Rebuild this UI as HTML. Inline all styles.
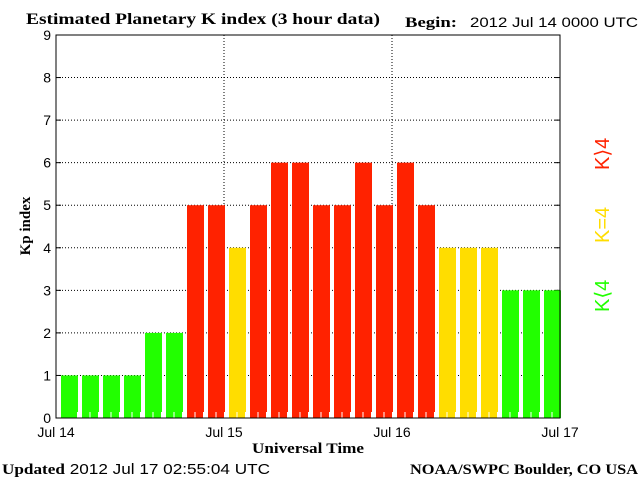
<!DOCTYPE html>
<html><head><meta charset="utf-8"><style>
body{margin:0;background:#fff;}
svg{display:block;font-family:"Liberation Sans",sans-serif;}
.serif{font-family:"Liberation Serif",serif;font-weight:bold;}
</style></head><body>
<svg id="chart" width="640" height="480" xmlns="http://www.w3.org/2000/svg">
<text x="26" y="24" class="serif" font-size="16" textLength="354" lengthAdjust="spacingAndGlyphs">Estimated Planetary K index (3 hour data)</text>
<text x="405" y="27" class="serif" font-size="15" textLength="52" lengthAdjust="spacingAndGlyphs">Begin:</text>
<text x="470" y="27" font-size="14" textLength="168" lengthAdjust="spacingAndGlyphs">2012 Jul 14 0000 UTC</text>
<g id="plot"></g>
<text x="30" y="226" class="serif" font-size="15" text-anchor="middle" transform="rotate(-90 30 226)">Kp index</text>
<text x="308" y="453" class="serif" font-size="15" text-anchor="middle" textLength="112" lengthAdjust="spacingAndGlyphs">Universal Time</text>
<text x="2" y="474" font-size="15" textLength="268" lengthAdjust="spacingAndGlyphs"><tspan class="serif">Updated</tspan> 2012 Jul 17 02:55:04 UTC</text>
<text x="410" y="474" class="serif" font-size="15" textLength="228" lengthAdjust="spacingAndGlyphs">NOAA/SWPC Boulder, CO USA</text>
<text x="609" y="312" font-size="20" fill="#22ff00" transform="rotate(-90 609 312)">K⟨4</text>
<text x="609" y="243" font-size="20" fill="#ffdd00" transform="rotate(-90 609 243)">K=4</text>
<text x="609" y="170" font-size="20" fill="#ff2200" transform="rotate(-90 609 170)">K⟩4</text>
</svg>
<script>
const kpValues = [1,1,1,1,2,2,5,5,4,5,6,6,5,5,6,5,6,5,4,4,4,3,3,3];
const yTicks = [0,1,2,3,4,5,6,7,8,9];
const dayLabels = ["Jul 14","Jul 15","Jul 16","Jul 17"];
const NS="http://www.w3.org/2000/svg";
const L=56,R=560,T=35,B=418;
const y=v=>B-(B-T)*v/9;
const slotW=(R-L)/kpValues.length;
const xs=i=>L+i*slotW;
const g=document.getElementById('plot');
function mk(t,a){const e=document.createElementNS(NS,t);for(const k in a)e.setAttribute(k,a[k]);g.appendChild(e);return e;}
yTicks.forEach(v=>{
 if(v>0&&v<9){const l=mk('line',{x1:L,x2:R,y1:y(v),y2:y(v),stroke:'#000','stroke-dasharray':'1,2','stroke-width':1});
 
 }
 const t=mk('text',{x:L-5,y:y(v)+5,'font-size':14,'text-anchor':'end'});t.textContent=v;
 
 
 mk('line',{x1:L,x2:L+5,y1:y(v),y2:y(v),stroke:'#000'});
 mk('line',{x1:R-5,x2:R,y1:y(v),y2:y(v),stroke:'#000'});
});
const dayW=(R-L)/(dayLabels.length-1);
dayLabels.forEach((d,i)=>{
 const x=L+i*dayW;
 if(i>0&&i<dayLabels.length-1){const l=mk('line',{x1:x,x2:x,y1:T,y2:B,stroke:'#000','stroke-dasharray':'1,2'});
 
 }
 const t=mk('text',{x:x,y:437,'font-size':14,'text-anchor':'middle'});t.textContent=d;
 
 
});
kpValues.forEach((v,i)=>{
 const c=v<4?'#22ff00':(v==4?'#ffdd00':'#ff2200');
 const r=mk('rect',{x:xs(i)+5,y:y(v),width:slotW-4,height:B-y(v),fill:c});
 
 
 mk('line',{x1:xs(i)+0.5,x2:xs(i)+0.5,y1:B-6,y2:B,stroke:'#fff'});
});
for(let i=1;i<kpValues.length;i++){const x=xs(i)+slotW/2+2.5;mk('line',{x1:x,x2:x,y1:B-6,y2:B,stroke:'#fff'});}
const f=mk('rect',{x:L,y:T,width:R-L,height:B-T,fill:'none',stroke:'#000'});


</script>
</body></html>
